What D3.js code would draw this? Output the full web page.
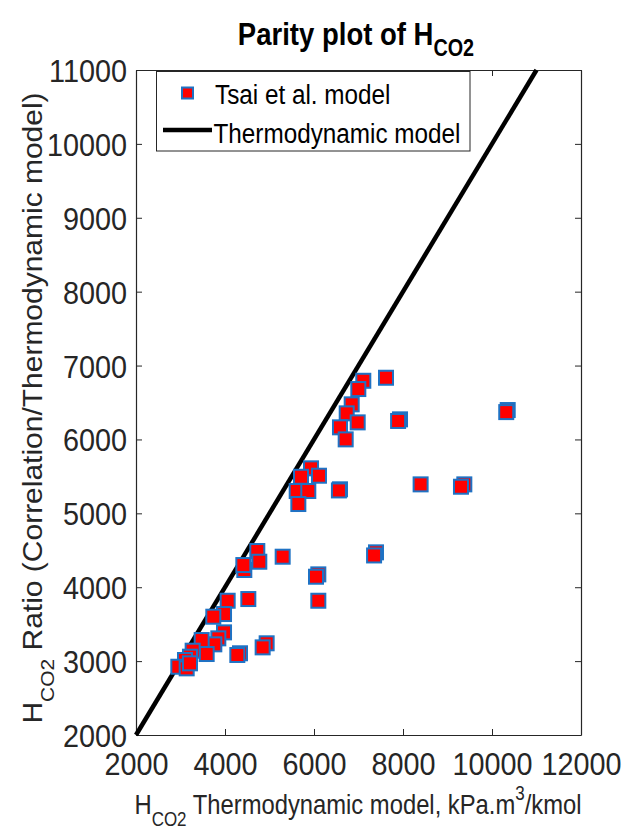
<!DOCTYPE html>
<html>
<head>
<meta charset="utf-8">
<script src="https://cdn.jsdelivr.net/npm/d3@7"></script>
<style>
    body { margin: 0; background: #fff; }
    text { font-family: Arial, "Liberation Sans", Helvetica, sans-serif; }
</style>
</head>
<body>
<script>
// values
var thermoModel = [10353, 10320, 7108, 7618, 6996, 6847, 6735, 6982, 6584, 6712,
    7933, 7890, 5933, 5708, 6112, 5611, 5872, 5648, 6584, 6560,
    8396, 9378, 9303, 7393, 7350, 6097, 6045, 6097, 5296, 4726,
    4771, 4434, 4412, 4524, 4060, 3978, 3737, 3978, 3850, 3760,
    3476, 3588, 3273, 3213, 3101, 2951, 3139, 3213, 4337, 4277,
    4936, 4846];
var tsaiModel = [6398, 6370, 6794, 6835, 6682, 6475, 6353, 6231, 6164, 6001,
    6272, 6250, 5609, 5495, 5509, 5302, 5302, 5126, 5325, 5310,
    5392, 5392, 5360, 4472, 4430, 4174, 4142, 3817, 4413, 4490,
    4345, 4233, 4300, 3840, 3817, 3637, 3601, 3389, 3308, 3227,
    3285, 3096, 3141, 3060, 3015, 2924, 2902, 2970, 3106, 3083,
    3241, 3186];
var parityLine = [2000, 11000];
var xTicks = [2000, 4000, 6000, 8000, 10000, 12000];
var yTicks = [2000, 3000, 4000, 5000, 6000, 7000, 8000, 9000, 10000, 11000];
var legendLabels = ["Tsai et al. model", "Thermodynamic model"];

var width = 623, height = 832;
// plot box (note: "top" is taken by window.top, so use a prefix)
var boxLeft = 136, boxRight = 581, boxTop = 70, boxBottom = 735;
var sx = 0.9; // text in the reference is a bit narrow

var svg = d3.select("body").append("svg")
    .attr("width", width)
    .attr("height", height);

svg.append("rect").attr("width", width).attr("height", height).attr("fill", "#fff");

var x = d3.scaleLinear().domain([2000, 12000]).range([boxLeft, boxRight]);
var y = d3.scaleLinear().domain([2000, 11000]).range([boxBottom, boxTop]);

// axes, ticks pointing inward on all four sides
var axisColor = "#262626";

function styleAxis(g) {
    g.selectAll("path").attr("stroke", axisColor);
    g.selectAll("line").attr("stroke", axisColor);
    g.selectAll("text").attr("fill", axisColor).attr("font-size", 32);
}

svg.append("g")
    .attr("transform", "translate(0," + boxBottom + ")")
    .call(d3.axisBottom(x).tickValues(xTicks).tickSizeInner(-6).tickSizeOuter(0).tickPadding(17).tickFormat(d3.format("d")))
    .call(styleAxis)
    .selectAll("text").attr("transform", "scale(" + sx + ",1)");

svg.append("g")
    .attr("transform", "translate(" + boxLeft + ",0)")
    .call(d3.axisLeft(y).tickValues(yTicks).tickSizeInner(-6).tickSizeOuter(0).tickPadding(10).tickFormat(d3.format("d")))
    .call(styleAxis)
    .selectAll("text").attr("dy", "0.36em").attr("transform", "scale(" + sx + ",1)");

svg.append("g")
    .attr("transform", "translate(0," + boxTop + ")")
    .call(d3.axisTop(x).tickValues(xTicks).tickSizeInner(-6).tickSizeOuter(0).tickFormat(""))
    .call(styleAxis);

svg.append("g")
    .attr("transform", "translate(" + boxRight + ",0)")
    .call(d3.axisRight(y).tickValues(yTicks).tickSizeInner(-6).tickSizeOuter(0).tickFormat(""))
    .call(styleAxis);

svg.selectAll(".domain").attr("stroke-width", 1.2);

// parity line y = x
svg.append("line")
    .attr("x1", x(parityLine[0])).attr("y1", y(parityLine[0]))
    .attr("x2", x(parityLine[1])).attr("y2", y(parityLine[1]))
    .attr("stroke", "#000")
    .attr("stroke-width", 4.5);

// square markers
var m = 14;
svg.append("g")
    .selectAll("rect")
    .data(thermoModel)
    .enter().append("rect")
    .attr("x", function (d) { return x(d) - m / 2; })
    .attr("y", function (d, i) { return y(tsaiModel[i]) - m / 2; })
    .attr("width", m)
    .attr("height", m)
    .attr("fill", "#ff0000")
    .attr("stroke", "#1f72c4")
    .attr("stroke-width", 2);

// legend
var lg = svg.append("g");
lg.append("rect")
    .attr("x", 156.5).attr("y", 71.5)
    .attr("width", 313.5).attr("height", 79.5)
    .attr("fill", "#fff")
    .attr("stroke", axisColor)
    .attr("stroke-width", 1);
lg.append("rect")
    .attr("x", 182).attr("y", 87.5)
    .attr("width", 11).attr("height", 11)
    .attr("fill", "#ff0000")
    .attr("stroke", "#1f72c4")
    .attr("stroke-width", 2);
lg.append("line")
    .attr("x1", 163).attr("x2", 212)
    .attr("y1", 130).attr("y2", 130)
    .attr("stroke", "#000")
    .attr("stroke-width", 4.5);
lg.selectAll("text")
    .data(legendLabels)
    .enter().append("text")
    .attr("transform", function (d, i) {
        return i === 0 ? "translate(215,104.3) scale(" + sx + ",1)" : "translate(213.5,143.3) scale(" + sx + ",1)";
    })
    .attr("font-size", 27)
    .attr("fill", "#000")
    .text(function (d) { return d; });

// title
var title = svg.append("text")
    .attr("transform", "translate(356,45) scale(0.86,1)")
    .attr("text-anchor", "middle")
    .attr("font-size", 32)
    .attr("font-weight", "bold")
    .attr("fill", "#000");
title.append("tspan").text("Parity plot of H");
title.append("tspan").attr("font-size", 23).attr("dy", 11).text("CO2");

// x axis label
var xl = svg.append("text")
    .attr("transform", "translate(358,814) scale(0.85,1)")
    .attr("text-anchor", "middle")
    .attr("font-size", 28)
    .attr("fill", axisColor);
xl.append("tspan").text("H");
xl.append("tspan").attr("font-size", 20).attr("dy", 12).text("CO2");
xl.append("tspan").attr("dy", -12).text(" Thermodynamic model, kPa.m");
xl.append("tspan").attr("font-size", 20).attr("dy", -14).text("3");
xl.append("tspan").attr("dy", 14).text("/kmol");

// y axis label
var yl = svg.append("text")
    .attr("transform", "translate(42,408) scale(" + sx + ",1) rotate(-90)")
    .attr("text-anchor", "middle")
    .attr("font-size", 30)
    .attr("fill", axisColor);
yl.append("tspan").text("H");
yl.append("tspan").attr("font-size", 21).attr("dy", 13).text("CO2");
yl.append("tspan").attr("dy", -13).text(" Ratio (Correlation/Thermodynamic model)");
</script>
</body>
</html>
